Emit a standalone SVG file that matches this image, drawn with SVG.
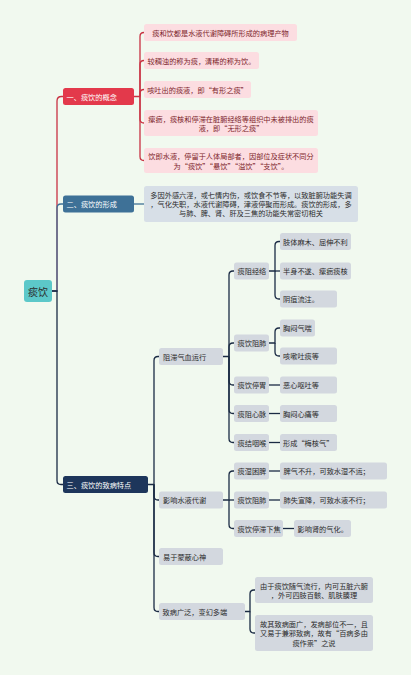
<svg xmlns="http://www.w3.org/2000/svg" width="411" height="675" viewBox="0 0 411 675">
<style>
text{font-family:"Noto Sans CJK SC","Noto Sans",sans-serif;font-size:7.2px;dominant-baseline:central}
.c{text-anchor:middle}
.red{fill:#e3394b}
.blue{fill:#3e7197}
.navy{fill:#1d365b}
.pk{fill:#fcdde1}
.pkt{fill:#7d1f2b}
.gb{fill:#d7dfe7}
.g{fill:#d3d8df}
.dt{fill:#2b2b2b}
.wt{fill:#ffffff}
.lr{fill:none;stroke:#c93242;stroke-width:1.3}
.lb{fill:none;stroke:#3e7197;stroke-width:1.3}
.ln{fill:none;stroke:#1b2b44;stroke-width:1.3}
</style>
<rect width="411" height="675" fill="#f1f9ef"/>
<g id="connectors">
<path class="lr" d="M52,291 H57 V101 Q57,96.5 61.5,96.5 H63"/>
<path class="lb" d="M52,291 H57 V208 Q57,204 61,204 H63"/>
<path class="ln" d="M52,291 H57 V480.5 Q57,484.5 61,484.5 H63"/>
<path class="lr" d="M134,96.5 H140 V36.5 Q140,32.5 144,32.5"/>
<path class="lr" d="M140,96.5 V64.5 Q140,60.5 144,60.5"/>
<path class="lr" d="M140,96.5 V93.5 Q140,89.5 144,89.5"/>
<path class="lr" d="M140,96.5 V119 Q140,123 144,123"/>
<path class="lr" d="M140,96.5 V156.5 Q140,160.5 144,160.5"/>
<path class="lb" d="M134,204 H144"/>
<path class="ln" d="M148,484.5 H154 V360.5 Q154,356.5 158,356.5 H159"/>
<path class="ln" d="M154,484.5 V496 Q154,500 158,500 H159"/>
<path class="ln" d="M154,484.5 V552.5 Q154,556.5 158,556.5 H159"/>
<path class="ln" d="M154,484.5 V607.5 Q154,611.5 158,611.5 H159"/>
<path class="ln" d="M223,356.5 H229 V275 Q229,271 233,271 H234"/>
<path class="ln" d="M229,356.5 V347 Q229,343 233,343 H234"/>
<path class="ln" d="M229,356.5 V381 Q229,385 233,385 H234"/>
<path class="ln" d="M229,356.5 V409.5 Q229,413.5 233,413.5 H234"/>
<path class="ln" d="M229,356.5 V438.5 Q229,442.5 233,442.5 H234"/>
<path class="ln" d="M269,271 H275 V245.5 Q275,241.5 279,241.5 H280"/>
<path class="ln" d="M275,271 H280"/>
<path class="ln" d="M275,271 V295 Q275,299 279,299 H280"/>
<path class="ln" d="M269,343 H275 V332 Q275,328 279,328 H280"/>
<path class="ln" d="M275,343 V352 Q275,356 279,356 H280"/>
<path class="ln" d="M269,385 H280"/>
<path class="ln" d="M269,413.5 H280"/>
<path class="ln" d="M269,442.5 H280"/>
<path class="ln" d="M223,500 H229 V475 Q229,471 233,471 H234"/>
<path class="ln" d="M229,500 H234"/>
<path class="ln" d="M229,500 V524.5 Q229,528.5 233,528.5 H234"/>
<path class="ln" d="M269,471 H280"/>
<path class="ln" d="M269,500 H280"/>
<path class="ln" d="M283,528.5 H294"/>
<path class="ln" d="M245,611.5 H250 V594 Q250,590 254,590 H255"/>
<path class="ln" d="M250,611.5 V629 Q250,633 254,633 H255"/>
</g>
<g id="root"><rect x="24" y="280" width="28" height="22" rx="3" fill="#5cc8c9"/><text class="c dt" x="38" y="291" style="font-size:10px">痰饮</text></g>
<g id="b1"><rect class="red" x="63" y="88" width="71" height="17" rx="2.5"/><text class="wt" x="66.5" y="96.5">一、痰饮的概念</text></g>
<g id="b1c1"><rect class="pk" x="144" y="24" width="153" height="17" rx="2.5"/><text class="c pkt" x="220.5" y="32.5">痰和饮都是水液代谢障碍所形成的病理产物</text></g>
<g id="b1c2"><rect class="pk" x="144" y="52" width="115" height="17" rx="2.5"/><text class="c pkt" x="201.5" y="60.5">较稠浊的称为痰，清稀的称为饮。</text></g>
<g id="b1c3"><rect class="pk" x="144" y="81" width="107" height="17" rx="2.5"/><text class="c pkt" x="197.5" y="89.5">咳吐出的痰液，即“有形之痰”</text></g>
<g id="b1c4"><rect class="pk" x="144" y="110" width="174" height="26" rx="2.5"/><text class="c pkt" x="231" y="118.5">瘰疬，痰核和停滞在脏腑经络等组织中未被排出的痰</text><text class="c pkt" x="231" y="127.5">液，即“无形之痰”</text></g>
<g id="b1c5"><rect class="pk" x="144" y="148" width="174" height="25" rx="2.5"/><text class="c pkt" x="231" y="156">饮即水液，停留于人体局部者，因部位及症状不同分</text><text class="c pkt" x="231" y="165.5">为“痰饮”“悬饮”“溢饮”“支饮”。</text></g>
<g id="b2"><rect class="blue" x="63" y="195.5" width="71" height="17" rx="2.5"/><text class="wt" x="66.5" y="204">二、痰饮的形成</text></g>
<g id="b2c1"><rect class="gb" x="144" y="186" width="214" height="36" rx="2.5"/><text class="c dt" x="251" y="194.8">多因外感六淫，或七情内伤，或饮食不节等，以致脏腑功能失调</text><text class="c dt" x="251" y="204.1">，气化失职，水液代谢障碍，津液停聚而形成。痰饮的形成，多</text><text class="c dt" x="251" y="213.4">与肺、脾、肾、肝及三焦的功能失常密切相关</text></g>
<g id="b3"><rect class="navy" x="63" y="476" width="85" height="17" rx="2.5"/><text class="wt" x="66.5" y="484.5">三、痰饮的致病特点</text></g>
<g id="n1"><rect class="g" x="159" y="348" width="64" height="17" rx="2.5"/><text class="dt" x="163" y="356.5">阻滞气血运行</text></g>
<g id="n11"><rect class="g" x="234" y="262.5" width="35" height="17" rx="2.5"/><text class="dt" x="237.5" y="271">痰阻经络</text></g>
<g id="n111"><rect class="g" x="280" y="233" width="71" height="17" rx="2.5"/><text class="dt" x="283" y="241.5">肢体麻木、屈伸不利</text></g>
<g id="n112"><rect class="g" x="280" y="262.5" width="71" height="17" rx="2.5"/><text class="dt" x="283" y="271">半身不遂、瘰疬痰核</text></g>
<g id="n113"><rect class="g" x="280" y="290.5" width="57" height="17" rx="2.5"/><text class="dt" x="283" y="299">阴疽流注。</text></g>
<g id="n12"><rect class="g" x="234" y="334.5" width="35" height="17" rx="2.5"/><text class="dt" x="237.5" y="343">痰饮阻肺</text></g>
<g id="n121"><rect class="g" x="280" y="319.5" width="35" height="17" rx="2.5"/><text class="dt" x="283" y="328">胸闷气喘</text></g>
<g id="n122"><rect class="g" x="280" y="347.5" width="57" height="17" rx="2.5"/><text class="dt" x="283" y="356">咳嗽吐痰等</text></g>
<g id="n13"><rect class="g" x="234" y="376.5" width="35" height="17" rx="2.5"/><text class="dt" x="237.5" y="385">痰饮停胃</text></g>
<g id="n131"><rect class="g" x="280" y="376.5" width="57" height="17" rx="2.5"/><text class="dt" x="283" y="385">恶心呕吐等</text></g>
<g id="n14"><rect class="g" x="234" y="405" width="35" height="17" rx="2.5"/><text class="dt" x="237.5" y="413.5">痰阻心脉</text></g>
<g id="n141"><rect class="g" x="280" y="405" width="57" height="17" rx="2.5"/><text class="dt" x="283" y="413.5">胸闷心痛等</text></g>
<g id="n15"><rect class="g" x="234" y="434" width="35" height="17" rx="2.5"/><text class="dt" x="237.5" y="442.5">痰结咽喉</text></g>
<g id="n151"><rect class="g" x="280" y="434" width="57" height="17" rx="2.5"/><text class="dt" x="283" y="442.5">形成“梅核气”</text></g>
<g id="n2"><rect class="g" x="159" y="491.5" width="64" height="17" rx="2.5"/><text class="dt" x="163" y="500">影响水液代谢</text></g>
<g id="n21"><rect class="g" x="234" y="462.5" width="35" height="17" rx="2.5"/><text class="dt" x="237.5" y="471">痰湿困脾</text></g>
<g id="n211"><rect class="g" x="280" y="462.5" width="107" height="17" rx="2.5"/><text class="dt" x="283.5" y="471">脾气不升，可致水湿不运；</text></g>
<g id="n22"><rect class="g" x="234" y="491.5" width="35" height="17" rx="2.5"/><text class="dt" x="237.5" y="500">痰饮阻肺</text></g>
<g id="n221"><rect class="g" x="280" y="491.5" width="107" height="17" rx="2.5"/><text class="dt" x="283.5" y="500">肺失宣降，可致水液不行；</text></g>
<g id="n23"><rect class="g" x="234" y="520" width="49" height="17" rx="2.5"/><text class="dt" x="237.5" y="528.5">痰饮停滞下焦</text></g>
<g id="n231"><rect class="g" x="294" y="520" width="57" height="17" rx="2.5"/><text class="dt" x="297.5" y="528.5">影响肾的气化。</text></g>
<g id="n3"><rect class="g" x="159" y="548" width="64" height="17" rx="2.5"/><text class="dt" x="163" y="556.5">易于蒙蔽心神</text></g>
<g id="n4"><rect class="g" x="159" y="603" width="86" height="17" rx="2.5"/><text class="dt" x="162.5" y="611.5">致病广泛，变幻多端</text></g>
<g id="n41"><rect class="g" x="255" y="577" width="118" height="26" rx="2.5"/><text class="c dt" x="314" y="585.5">由于痰饮随气流行，内可五脏六腑</text><text class="c dt" x="314" y="594.8">，外可四肢百骸、肌肤腠理</text></g>
<g id="n42"><rect class="g" x="255" y="615" width="118" height="36" rx="2.5"/><text class="c dt" x="314" y="623.5">故其致病面广，发病部位不一，且</text><text class="c dt" x="314" y="633">又易于兼邪致病，故有“百病多由</text><text class="c dt" x="314" y="642.5">痰作祟”之说</text></g>
</svg>
